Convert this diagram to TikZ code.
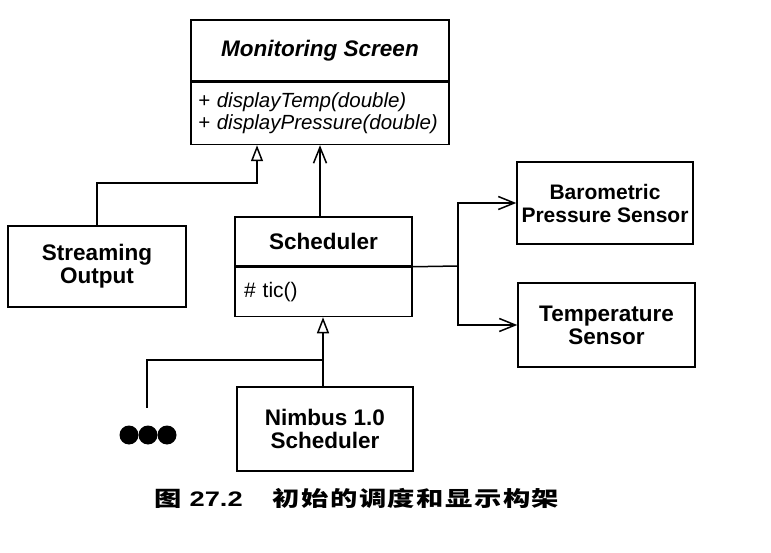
\documentclass[tikz,border=0pt]{standalone}
\usepackage{fontspec}
\setmainfont{Liberation Sans}
\newfontfamily\cjk{Noto Sans CJK SC}
\newfontfamily\cjksp[LetterSpace=5.5]{Noto Sans CJK SC}
\usetikzlibrary{arrows.meta}
\begin{document}
\begin{tikzpicture}[x=1pt,y=-1pt,line width=1.5pt,
  cls/.style={draw,inner sep=0pt,align=center,font=\fontsize{22.5}{23}\selectfont\bfseries},
  ops/.style={draw,inner ysep=0pt,anchor=north,align=left,font=\fontsize{20.5}{22}\selectfont\itshape},
  inh/.style={-{Triangle[open,length=16pt,width=12pt]}},
  dep/.style={-{Straight Barb[length=16pt,width=13pt]}}]
\useasboundingbox (0,0) rectangle (771,553);
\node[cls,minimum width=258pt,minimum height=61pt,font=\fontsize{22.5}{23}\selectfont\bfseries\itshape] (ms) at (320,50.5) {Monitoring Screen};
\node[ops,text width=244pt,inner xsep=7pt,minimum height=62pt] (msops) at (ms.south) {\mbox{+ displayTemp(double)}\\\mbox{+ displayPressure(double)}};
\node[cls,minimum width=178pt,minimum height=81pt] (stream) at (97,266.5) {Streaming\\Output};
\node[cls,minimum width=177pt,minimum height=49pt] (sched) at (323.5,241.5) {Scheduler};
\node[ops,text width=159pt,inner xsep=9pt,minimum height=49pt,font=\fontsize{21}{22}\selectfont] (schedops) at (sched.south) {\# tic()};
\node[cls,minimum width=176pt,minimum height=82pt,font=\fontsize{21}{23}\selectfont\bfseries] (baro) at (605,203) {Barometric\\Pressure Sensor};
\node[cls,minimum width=177pt,minimum height=84pt] (temp) at (606.5,325) {Temperature\\Sensor};
\node[cls,minimum width=176pt,minimum height=84pt] (nimbus) at (325,429) {Nimbus 1.0\\Scheduler};
% generalisations
\coordinate (js) at (257,183); \draw[inh] (stream.north) |- (js) -- (js |- msops.south);
\draw[inh] ([xshift=-2pt]nimbus.north) -- ([xshift=-2pt]nimbus.north |- schedops.south);
\coordinate (jn) at (323,360); \coordinate (jd) at (147,408); \draw (jn) -| (jd);
\foreach \x in {129,148,167} \fill (\x,435) circle (9.5pt);
% uses
\draw[dep] ([xshift=-3.5pt]sched.north) -- ([xshift=-3.5pt]sched.north |- msops.south);
\coordinate (jb) at (458,266); \draw (sched.south east) -- (jb);
\draw[dep] (jb) |- (baro.west); \draw[dep] (jb) |- (temp.west);
\node[anchor=west,inner sep=0pt,font=\fontsize{21}{21}\selectfont\bfseries] (cap) at (154,498) {\scalebox{1.3}[1]{{\cjk 图} 27.2\hspace{23pt}{\cjksp 初始的调度和显示构架}}};
\end{tikzpicture}
\end{document}
